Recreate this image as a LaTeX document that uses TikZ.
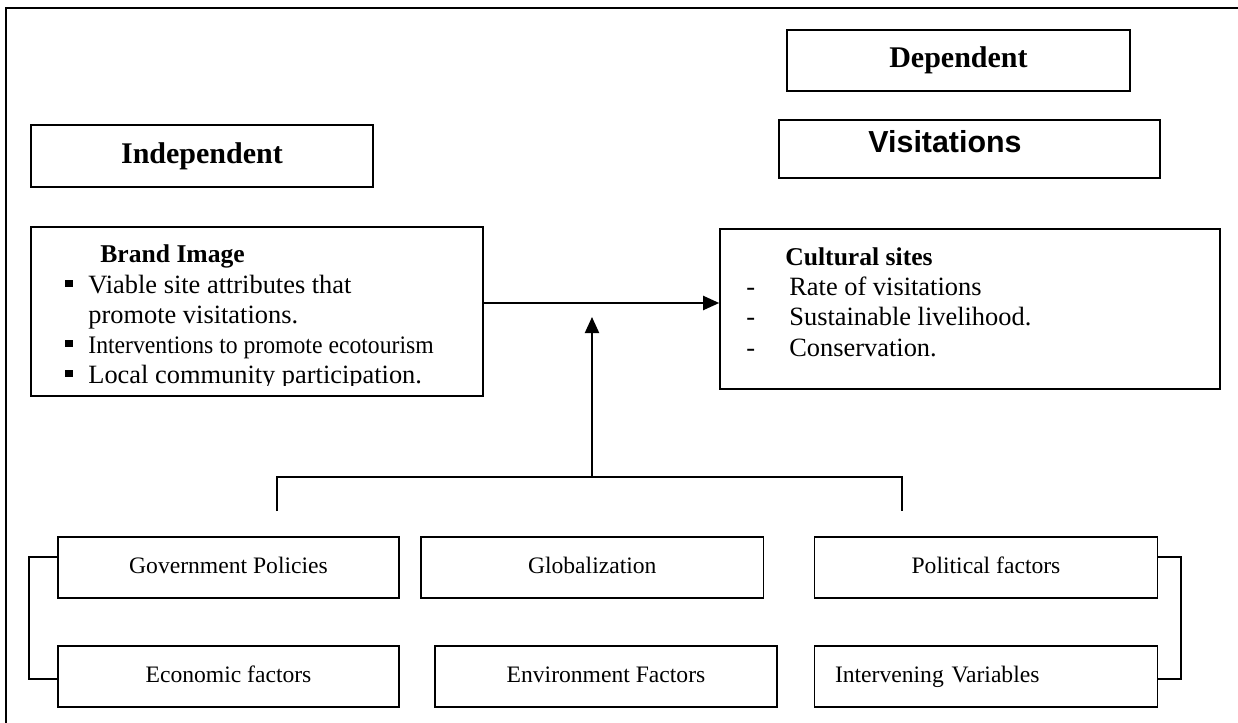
\documentclass[tikz,border=0pt]{standalone}
\usepackage{fontspec}
\setmainfont{Liberation Serif}
\newfontfamily\headsans{Liberation Sans}
\newfontfamily\narrowserif[FakeStretch=0.94]{Liberation Serif}
\usetikzlibrary{arrows.meta}
\newcommand\sqbullet{\makebox[11.5pt][l]{\rule[3pt]{3.8pt}{3.6pt}}}
\newcommand\dashitem{\makebox[21.5pt][l]{-}}
\tikzset{
  varbox/.style={draw, line width=0.8pt, inner sep=0pt},
  headbox/.style={varbox, font=\bfseries\fontsize{15}{18}\selectfont},
  factorbox/.style={varbox, minimum height=30.5pt, text height=8.5pt, text depth=2.5pt, font=\fontsize{11.8}{14}\selectfont},
  itemtext/.style={anchor=base west, inner sep=0pt, font=\fontsize{13.2}{15}\selectfont},
  itemhead/.style={itemtext, font=\bfseries\fontsize{12.8}{15}\selectfont},
  link/.style={line width=0.8pt},
  arr/.style={line width=1pt, -{Triangle[length=8pt,width=7pt]}},
}

\begin{document}
\begin{tikzpicture}[x=0.5pt,y=-0.5pt]%
\useasboundingbox (0,0) rectangle (1238,723);%
\draw[line width=1.1pt] (1238,8) -- (6,8) -- (6,723);%
\node[headbox, minimum width=171.25pt, minimum height=31pt] (indep) at (202,156) {Independent};%
\node[headbox, minimum width=171.5pt, minimum height=30.5pt] (dep) at (958.5,60.5) {Dependent};%
\node[varbox, minimum width=190.5pt, minimum height=29pt] (visit) at (969.5,149) {};%
\node[anchor=base, inner sep=0pt, font=\headsans\bfseries\fontsize{15.2}{18}\selectfont] (visitlbl) at (945,152) {Visitations};%
\node[varbox, minimum width=226pt, minimum height=84.5pt] (brand) at (257,311.5) {};%
\node[itemhead] (brandhd) at (100,262) {Brand Image};%
\node[itemtext] (brand1) at (65,293) {\sqbullet Viable site attributes that};%
\node[itemtext] (brand2) at (88,323) {promote visitations.};%
\node[itemtext, font=\narrowserif\fontsize{12.6}{15}\selectfont] (brand3) at (65,353) {\sqbullet Interventions to promote ecotourism};%
\begin{scope}%
\clip (31,227) rectangle (483,385.5);%
\node[itemtext] (brand4) at (65,383) {\sqbullet Local community participation.};%
\end{scope}%
\node[varbox, minimum width=250pt, minimum height=80pt] (cult) at (970,309) {};%
\node[itemhead] (culthd) at (785,265) {Cultural sites};%
\node[itemtext] (cult1) at (746,295) {\dashitem Rate of visitations};%
\node[itemtext] (cult2) at (746,325) {\dashitem Sustainable livelihood.};%
\node[itemtext] (cult3) at (746,356) {\dashitem Conservation.};%
\node[factorbox, minimum width=170.5pt] (gov) at (228.5,567.5) {Government Policies};%
\node[factorbox, minimum width=171.25pt] (glob) at (592.25,567.5) {Globalization};%
\node[factorbox, minimum width=171.5pt] (pol) at (986,567.5) {Political factors};%
\node[factorbox, minimum width=170.5pt] (econ) at (228.5,676.5) {Economic factors};%
\node[factorbox, minimum width=171pt] (env) at (606,676.5) {Environment Factors};%
\node[factorbox, text width=151pt, inner xsep=10.25pt, align=left] (interv) at (986,676.5) {Intervening Variables};%
\coordinate (join) at (592,477);%
\coordinate (tip) at (592,317);%
\coordinate (dropl) at (277,511);%
\coordinate (dropr) at (902,511);%
\draw[arr] ([yshift=4.25pt]brand.east) -- ([yshift=3pt]cult.west);%
\draw[arr] (join) -- (tip);%
\draw[link] (dropl) |- (join) -| (dropr);%
\draw[link] ([yshift=5.25pt]gov.west) -- ++(-14pt,0) |- ([yshift=-1.25pt]econ.west);%
\draw[link] ([yshift=5.25pt]pol.east) -- ++(11.25pt,0) |- ([yshift=-1.25pt]interv.east);%
\end{tikzpicture}
\end{document}
